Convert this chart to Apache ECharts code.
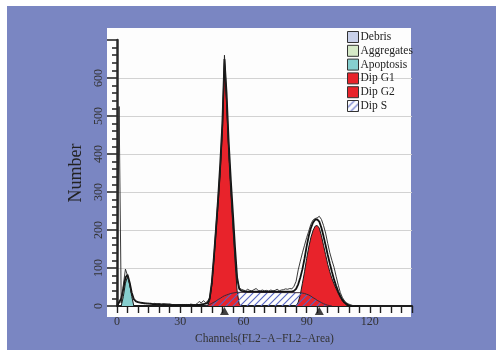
<!DOCTYPE html>
<html><head><meta charset="utf-8">
<script src="https://cdn.jsdelivr.net/npm/echarts@6/dist/echarts.min.js"></script>
<style>html,body{margin:0;padding:0;background:#fff}#c{width:496px;height:350px}</style>
</head><body><div id="c"></div>
<script>
// ---- data ----
const channels = [0,1,2,3,4,5,6,7,8,9,10,11,12,13,14,15,16,17,18,19,20,21,22,23,24,25,26,27,28,29,30,31,32,33,34,35,36,37,38,39,40,41,42,43,44,45,46,47,48,49,50,51,52,53,54,55,56,57,58,59,60,61,62,63,64,65,66,67,68,69,70,71,72,73,74,75,76,77,78,79,80,81,82,83,84,85,86,87,88,89,90,91,92,93,94,95,96,97,98,99,100,101,102,103,104,105,106,107,108,109,110,111,112,113,114,115];
const rawCounts = [0,525,8,55,97,80,55,30,18,13,
 10,9,7,8,6,7,5,6,7,5,
 6,4,6,5,4,3,4,3,4,3,
 3,4,3,4,3,5,4,3,6,12,
 8,14,9,12,22,60,130,210,285,365,
 475,660,545,415,315,215,130,70,48,44,
 42,40,44,41,40,43,46,41,40,42,
 40,41,39,42,40,41,44,40,42,43,
 45,44,46,45,52,65,95,118,140,160,
 180,197,215,226,230,232,236,228,212,192,
 165,140,120,102,78,55,35,22,13,8,
 5,3,1,0,0,0];
const fitCounts = [0,10,20,45,75,82,62,35,18,12,
 10,9,8,7,7,6,6,5,5,5,
 5,4,4,4,4,4,3,3,3,3,
 3,3,3,3,3,3,3,3,3,3,
 4,5,6,8,20,62,130,205,285,375,
 480,650,560,432,333,245,155,75,45,40,
 39,38,38,38,38,38,38,38,38,38,
 38,38,38,38,38,38,38,38,38,38,
 38,38,38,38,40,45,57,75,97,125,
 157,184,205,219,227,228,222,206,184,160,
 135,112,90,70,53,38,26,16,9,5,
 2,0,0,0,0,0];
const apoChannels = [2,3,4,5,6,7,8];
const apoValues = [0,25,60,78,60,25,0];
const g1Channels = [43,44,45,46,47,48,49,50,51,52,53,54,55,56,57,58,59];
const g1Values = [0,15,55,120,195,268,350,455,640,530,403,300,210,120,40,5,0];
const g2Channels = [85,86,87,88,89,90,91,92,93,94,95,96,97,98,99,100,101,102,103,104,105,106,107,108,109,110];
const g2Values = [0,10,30,60,90,125,155,180,198,210,212,205,185,160,135,110,90,72,58,45,33,22,13,7,2,0];
const sChannels = [42,43,44,45,46,47,48,49,50,51,52,53,54,55,56,57,87,88,89,90,91,92,93,94,95,96,97,98,99,100,101,102];
const sValues = [0,2,4,7,10,13,17,20,24,27,29,31,33,34,35,36,35,34,33,31,29,26,22,19,15,12,9,6,4,2,1,0];
const debrisChannels = [];
const debrisValues = [];
const aggChannels = [];
const aggValues = [];
const peakChannels = [51, 96];
const legendNames = ['Debris','Aggregates','Apoptosis','Dip G1','Dip G2','Dip S'];
const xAxisTitle = 'Channels(FL2\u2212A\u2212FL2\u2212Area)';
const yAxisTitle = 'Number';

// ---- rendering ----
function zip(xs, ys){ return xs.map((x,i)=>[x, ys[i]]); }
function hatch(){
  const c = document.createElement('canvas'); c.width = 7; c.height = 7;
  const g = c.getContext('2d');
  g.strokeStyle = '#5565c4'; g.lineWidth = 1.1;
  g.beginPath();
  g.moveTo(0,7); g.lineTo(7,0);
  g.moveTo(-1,1); g.lineTo(1,-1);
  g.moveTo(6,8); g.lineTo(8,6);
  g.stroke();
  return c;
}
const hatchFill = {image: hatch(), repeat: 'repeat'};
const SERIF = 'Liberation Serif';
const chart = echarts.init(document.getElementById('c'), null, {renderer:'canvas'});
const areaSeries = (name, xs, ys, color, z) => ({
  name, type:'line', data: zip(xs, ys), symbol:'none', showSymbol:false, z,
  itemStyle:{color}, lineStyle:{color:'#1a1a1a', width:1}, areaStyle:{color, opacity:1}
});
chart.setOption({
  animation:false,
  backgroundColor:'#ffffff',
  graphic:{elements:[
    {type:'rect', silent:true, z:-100, shape:{x:7,y:6,width:489,height:344}, style:{fill:'#7a86c2'}},
    {type:'rect', silent:true, z:-99, shape:{x:107,y:28,width:304,height:289}, style:{fill:'#fdfdfd'}}
  ]},
  grid:{left:117, right:84, top:40, bottom:44},
  legend:{
    orient:'vertical', left:342, top:26, itemWidth:11, itemHeight:11, itemGap:1.8,
    icon:'rect', selectedMode:false,
    itemStyle:{borderColor:'#333', borderWidth:1},
    textStyle:{fontFamily:SERIF, fontSize:11.5, color:'#222', padding:[0,0,0,-3]},
    data: legendNames
  },
  xAxis:{
    type:'value', min:0, max:140, interval:5,
    axisLine:{show:true, lineStyle:{color:'#1e1e1e', width:2}},
    axisTick:{show:true, length:7, lineStyle:{color:'#1e1e1e', width:1.4}},
    axisLabel:{margin:10, fontFamily:SERIF, fontSize:12, color:'#333',
      formatter:v => (v % 30 === 0 ? String(v) : '')},
    splitLine:{show:false},
    name:xAxisTitle, nameLocation:'middle', nameGap:27,
    nameTextStyle:{fontFamily:SERIF, fontSize:11.5, color:'#333'}
  },
  yAxis:{
    type:'value', min:0, max:700, interval:100,
    axisLine:{show:true, lineStyle:{color:'#2a2a2a', width:2.5}},
    axisTick:{show:true, length:10, lineStyle:{color:'#2a2a2a', width:1.6}},
    minorTick:{show:true, splitNumber:5, length:5, lineStyle:{color:'#2a2a2a', width:1.6}},
    axisLabel:{rotate:90, margin:12, fontFamily:SERIF, fontSize:12, color:'#333',
      formatter:v => (v === 700 ? '' : String(v))},
    splitLine:{show:true, showMaxLine:false, lineStyle:{color:'#d2d2d2', width:1}},
    name:yAxisTitle, nameLocation:'middle', nameGap:24, nameRotate:90,
    nameTextStyle:{fontFamily:SERIF, fontSize:18, color:'#222'}
  },
  series:[
    areaSeries('Debris', debrisChannels, debrisValues, '#c9d1ea', 1),
    areaSeries('Aggregates', aggChannels, aggValues, '#d6eac8', 1),
    areaSeries('Apoptosis', apoChannels, apoValues, '#86cfcf', 2),
    areaSeries('Dip G1', g1Channels, g1Values, '#e8232b', 2),
    areaSeries('Dip G2', g2Channels, g2Values, '#e8232b', 2),
    {name:'Dip S', type:'line', data:zip(sChannels, sValues), symbol:'none', showSymbol:false, z:3,
      itemStyle:{color:hatchFill}, lineStyle:{color:'#3a2a3a', width:1}, areaStyle:{color:hatchFill, opacity:1}},
    {name:'fit', type:'line', data:zip(channels, fitCounts), symbol:'none', showSymbol:false, z:4,
      lineStyle:{color:'#111', width:1.8}},
    {name:'raw', type:'line', data:zip(channels, rawCounts), symbol:'none', showSymbol:false, z:5,
      lineStyle:{color:'#222', width:0.9}},
    {name:'peaks', type:'scatter', data:peakChannels.map(c=>[c,0]), symbol:'triangle',
      symbolSize:[9,8], symbolOffset:[0,5], clip:false, z:6, itemStyle:{color:'#111'}}
  ]
});
</script>
</body></html>
